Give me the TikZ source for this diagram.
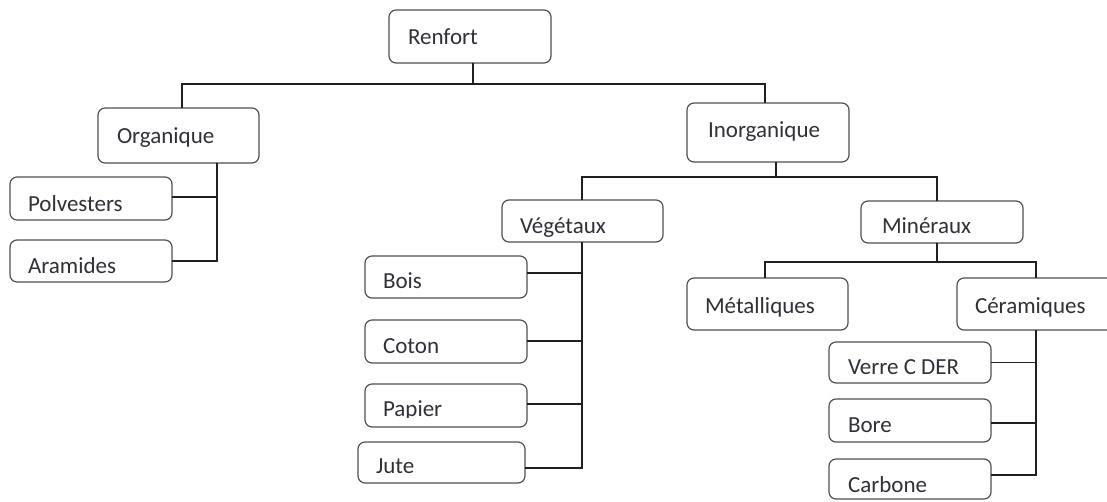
\documentclass[tikz,border=0pt]{standalone}
\usepackage{fontspec}
\setmainfont{Carlito}
\definecolor{boxline}{HTML}{505050}
\definecolor{txt}{HTML}{303038}
\definecolor{conn}{HTML}{202020}
\tikzset{
  box/.style={draw=boxline, line width=1.2pt, rounded corners=7pt, inner sep=0pt, outer sep=0pt, fill=white},
  lbl/.style={text=txt, inner sep=0pt, outer sep=0pt, font=\fontsize{23}{27}\selectfont},
  conn/.style={draw=conn, line width=1.2pt}
}
% #1 name, #2 left, #3 top, #4 right, #5 bottom, #6 text x, #7 baseline, #8 text
\newcommand\mybx[8]{%
  \node[box, minimum width={(#4-#2)*1pt}, minimum height={(#5-#3)*1pt}] (#1) at ({(#2+#4)/2},{(#3+#5)/2}) {};
  \node[lbl, anchor=base west] (#1-t) at (#6,#7) {#8};
}
\newcommand\myclipbx[9]{%
  \node[box, minimum width={(#4-#2)*1pt}, minimum height={(#5-#3)*1pt}] (#1) at ({(#2+#4)/2},{(#3+#5)/2}) {};
  \begin{scope}
    \clip (#2,#3) rectangle (#4,#9);
    \node[lbl, anchor=base west] (#1-t) at (#6,#7) {#8};
  \end{scope}
}
\begin{document}
\begin{tikzpicture}[x=1pt,y=-1pt]
\useasboundingbox (0,0) rectangle (1107,501);
% boxes
\mybx{renfort}{389}{10}{551}{63}{408}{44}{Renfort}
\mybx{organique}{98}{108}{259}{163}{117}{143}{Organique}
\mybx{polvesters}{10}{177}{172}{220}{28}{211}{Polvesters}
\mybx{aramides}{10}{240}{172}{282}{28}{273}{Aramides}
\mybx{inorganique}{687}{103}{849}{162}{708}{137}{Inorganique}
\myclipbx{vegetaux}{502}{200}{663}{242}{520}{233}{Végétaux}{241.5}
\mybx{mineraux}{861}{201}{1023}{243}{882}{233}{Minéraux}
\mybx{metalliques}{687}{278}{848}{330}{705}{313}{Métalliques}
\mybx{ceramiques}{957}{278}{1120}{330}{975}{313}{Céramiques}
\mybx{bois}{365}{256}{527}{298}{383}{288}{Bois}
\mybx{coton}{365}{320}{527}{363}{383}{353}{Coton}
\myclipbx{papier}{365}{384}{527}{427}{383}{416}{Papier}{417}
\mybx{jute}{358}{442}{525}{483}{376}{473}{Jute}
\mybx{verre}{829}{342}{991}{383}{848}{374}{Verre C DER}
\mybx{bore}{829}{399}{991}{442}{848}{432}{Bore}
\mybx{carbone}{829}{459}{991}{499}{848}{492}{Carbone}
% level 1
\coordinate (r1) at ([xshift=3pt]renfort.south);
\draw[conn] (r1) -- ++(0,21) coordinate (r1h);
\draw[conn] ([xshift=3.5pt]organique.north) |- (r1h) -| ([xshift=-3pt]inorganique.north);
% organique
\coordinate (o1) at ([xshift=38.5pt]organique.south);
\draw[conn] (o1) |- (aramides.east);
\draw[conn] ([yshift=1.5pt]polvesters.east) -- ([yshift=1.5pt]polvesters.east -| o1);
% inorganique
\coordinate (i1) at ([xshift=8pt]inorganique.south);
\draw[conn] (i1) -- ++(0,15) coordinate (i1h);
\draw[conn] ([xshift=-0.5pt]vegetaux.north) |- (i1h) -| ([xshift=-5pt]mineraux.north);
% vegetaux
\coordinate (v1) at ([xshift=-0.5pt]vegetaux.south);
\draw[conn] (v1) |- ([yshift=-5.5pt]jute.east);
\draw[conn] ([yshift=4pt]bois.east) -- ([yshift=4pt]bois.east -| v1);
\draw[conn] ([yshift=0.5pt]coton.east) -- ([yshift=0.5pt]coton.east -| v1);
\draw[conn] ([yshift=1.5pt]papier.east) -- ([yshift=1.5pt]papier.east -| v1);
% mineraux
\coordinate (m1) at ([xshift=-5pt]mineraux.south);
\draw[conn] (m1) -- ++(0,19) coordinate (m1h);
\draw[conn] ([xshift=-2.5pt]metalliques.north) |- (m1h) -| ([xshift=-2.5pt]ceramiques.north);
% ceramiques
\coordinate (c1) at ([xshift=-2.5pt]ceramiques.south);
\draw[conn] (c1) |- ([yshift=4pt]carbone.east);
\draw[conn] (verre.east) -- (verre.east -| c1);
\draw[conn] ([yshift=-2.5pt]bore.east) -- ([yshift=-2.5pt]bore.east -| c1);
\end{tikzpicture}
\end{document}
